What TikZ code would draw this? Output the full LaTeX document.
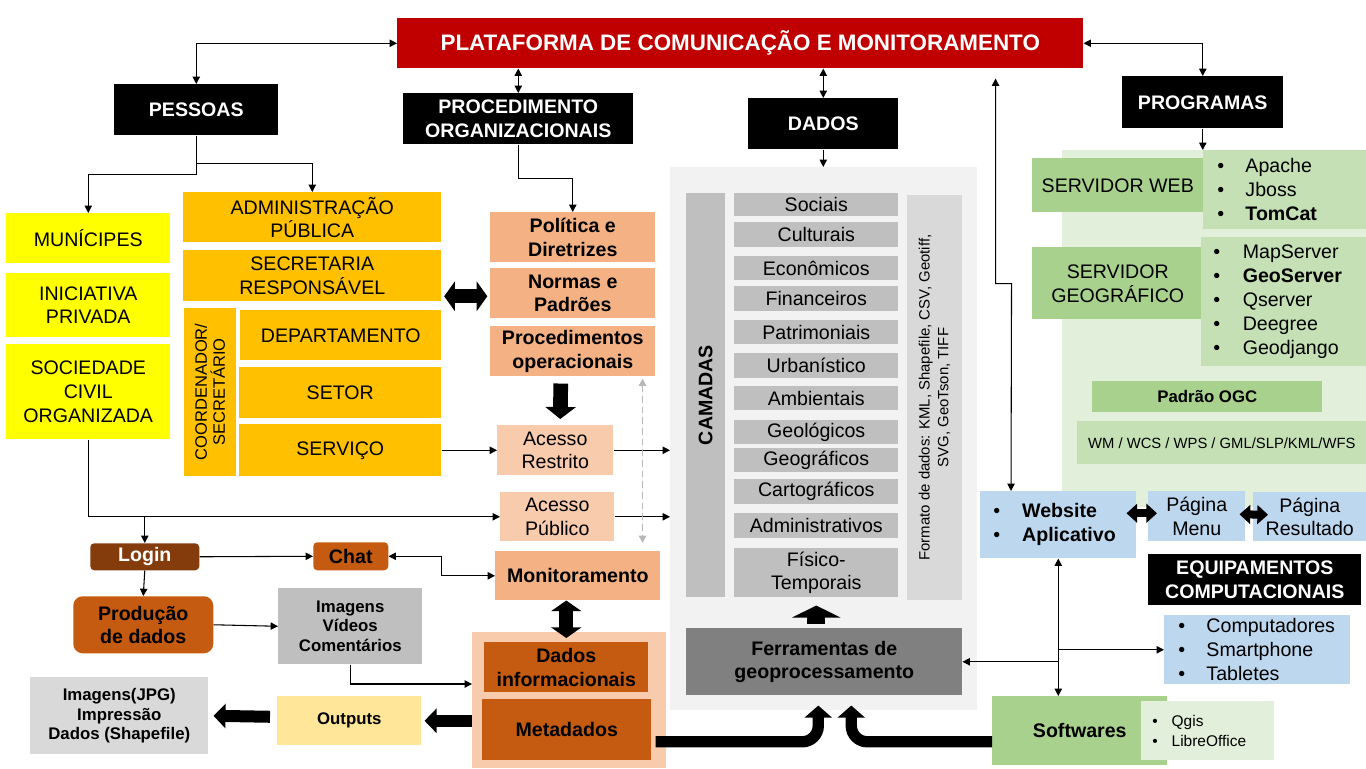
\documentclass[tikz,border=0pt]{standalone}
\usepackage{fontspec}
\setmainfont{Liberation Sans}
\usepackage{xcolor}
\definecolor{vermelho}{HTML}{C00000}
\definecolor{amarelo}{HTML}{FFFF00}
\definecolor{ouro}{HTML}{FFC000}
\definecolor{salmao}{HTML}{F4B183}
\definecolor{salmaoc}{HTML}{F8CBAD}
\definecolor{marrom}{HTML}{843C0C}
\definecolor{laranja}{HTML}{C55A11}
\definecolor{cinza}{HTML}{BFBFBF}
\definecolor{cinzac}{HTML}{D9D9D9}
\definecolor{cinzaf}{HTML}{F2F2F2}
\definecolor{cinzae}{HTML}{808080}
\definecolor{creme}{HTML}{FFE699}
\definecolor{verde}{HTML}{A9D18E}
\definecolor{verdec}{HTML}{C5E0B4}
\definecolor{verdef}{HTML}{E2EFDA}
\definecolor{azul}{HTML}{BDD7EE}
\usepackage{tikz}
\usetikzlibrary{arrows.meta,calc}
\newcommand{\itm}[1][16pt]{\textbullet\hspace{#1}}

\begin{document}
\begin{tikzpicture}[
    x=0.75pt, y=-0.75pt,
    box/.style={anchor=north west, inner sep=0pt, align=center, font=\fontsize{14.7}{17.6}\selectfont},
    bbox/.style={box, font=\fontsize{14.7}{17.6}\selectfont\bfseries},
    sbox/.style={box, font=\fontsize{12.6}{14.8}\selectfont\bfseries},
    sz/.style 2 args={minimum width=(#1)*0.75pt, minimum height=(#2)*0.75pt},
    titulo/.style={bbox, fill=black, text=white},
    lst/.style={box, align=left, font=\fontsize{14.7}{18}\selectfont},
    arr/.style={-{Triangle[length=5.5pt,width=5.5pt]}, line width=0.8pt},
    arr2/.style={{Triangle[length=5.5pt,width=5.5pt]}-{Triangle[length=5.5pt,width=5.5pt]}, line width=0.8pt},
    tracejada/.style={arr2, draw=black!28, fill=black!28, dashed, dash pattern=on 5pt off 3pt, line width=1.4pt},
    blk/.style 2 args={line width=#1, -{Triangle[length=9pt,width=#2]}},
    blk2/.style 2 args={line width=#1, {Triangle[length=8pt,width=#2]}-{Triangle[length=8pt,width=#2]}}
]
\useasboundingbox (0,0) rectangle (1366,768);

\node[bbox, fill=vermelho, text=white, sz={686}{50}, font=\fontsize{16.8}{19}\selectfont\bfseries] (plat) at (397,18) {PLATAFORMA DE COMUNICAÇÃO E MONITORAMENTO};
\node[titulo, sz={164}{51}] (pessoas) at (114,84) {PESSOAS};
\node[titulo, sz={230}{51}] (proc) at (403,93) {PROCEDIMENTO\\ORGANIZACIONAIS};
\node[titulo, sz={150}{51}] (dados) at (748,98) {DADOS};
\node[titulo, sz={161}{52}] (prog) at (1122,76) {PROGRAMAS};

\node[box, fill=amarelo, sz={164}{50}] (mun) at (6,213) {MUNÍCIPES};
\node[box, fill=amarelo, sz={164}{64}] (inic) at (6,273) {INICIATIVA\\PRIVADA};
\node[box, fill=amarelo, sz={164}{95}, font=\fontsize{14.7}{18}\selectfont] (soc) at (6,344) {SOCIEDADE\\CIVIL\\ORGANIZADA};

\node[box, fill=ouro, sz={258}{50}] (adm) at (183,192) {ADMINISTRAÇÃO\\PÚBLICA};
\node[box, fill=ouro, sz={258}{51}] (secr) at (183,250) {SECRETARIA\\RESPONSÁVEL};
\node[box, fill=ouro, rotate=90, anchor=center, sz={168}{52}, font=\fontsize{12.4}{13.5}\selectfont] (coord) at (210,392) {COORDENADOR/\\SECRETÁRIO};
\node[box, fill=ouro, sz={201}{50}] (dep) at (240,310) {DEPARTAMENTO};
\node[box, fill=ouro, sz={202}{51}] (setor) at (239,367) {SETOR};
\node[box, fill=ouro, sz={202}{52}] (serv) at (239,424) {SERVIÇO};

\node[bbox, fill=salmao, sz={165}{50}] (pol) at (490,212) {Política e\\Diretrizes};
\node[bbox, fill=salmao, sz={165}{50}] (normas) at (490,268) {Normas e\\Padrões};
\node[bbox, fill=salmao, sz={165}{50}] (procop) at (490,326) {Procedimentos\\operacionais};
\node[box, fill=salmaoc, sz={116}{50}] (restr) at (497,425) {Acesso\\Restrito};
\node[box, fill=salmaoc, sz={114}{49}] (publ) at (500,492) {Acesso\\Público};
\node[bbox, fill=salmao, sz={165}{49}] (monit) at (495,551) {Monitoramento};

\node[bbox, fill=marrom, text=white, rounded corners=3pt, sz={109}{27}] (login) at (90,543) {Login};
\node[bbox, fill=laranja, rounded corners=3pt, sz={75}{28}] (chat) at (313,542) {Chat};
\node[bbox, fill=laranja, rounded corners=7pt, sz={140}{57}] (prod) at (73,596) {Produção\\de dados};
\node[sbox, fill=cinza, sz={144}{76}] (midia) at (278,588) {Imagens\\Vídeos\\Comentários};
\node[sbox, fill=cinzac, sz={178}{77}] (saida) at (30,677) {Imagens(JPG)\\Impressão\\Dados (Shapefile)};
\node[sbox, fill=creme, sz={144}{49}] (outp) at (277,696) {Outputs};

\node[box, fill=salmaoc, sz={194}{136}] (cont) at (472,632) {};
\node[bbox, fill=laranja, sz={164}{50}] (info) at (484,642) {Dados\\informacionais};
\node[bbox, fill=laranja, sz={169}{61}] (meta) at (482,699) {Metadados};

\node[box, fill=cinzaf, sz={307}{543}] (ger) at (670,167) {};
\node[bbox, fill=cinza, rotate=90, anchor=center, sz={404}{39}] (cam) at (705.5,395) {CAMADAS};
\foreach \t/\a/\b [count=\i] in {Sociais/193/216, Culturais/222/247, Econômicos/256/280,
    Financeiros/286/311, Patrimoniais/320/344, Urbanístico/353/378, Ambientais/386/410,
    Geológicos/420/444, Geográficos/448/472, Cartográficos/479/504,
    Administrativos/513/538, Físico-\\Temporais/548/597}
  \node[box, fill=cinza, sz={164}{\b-\a}] (lay\i) at (734,\a) {\t};
\node[box, fill=cinzac, rotate=90, anchor=center, sz={405}{55}, font=\fontsize{11.2}{14}\selectfont] (fmt) at (934.5,397.5) {Formato de dados: KML, Shapefile, CSV, Geotiff,\\SVG, GeoTson, TIFF};
\node[bbox, fill=cinzae, sz={276}{67}] (ferr) at (686,628) {Ferramentas de\\geoprocessamento};

\node[box, fill=verdef, sz={304}{357}] (fundo) at (1062,150) {};
\node[box, fill=verde, sz={171}{54}] (web) at (1032,158) {SERVIDOR WEB};
\node[lst, fill=verdec, sz={163}{79}, inner xsep=10.5pt, text width=101.25pt] (weblst) at (1203,150) {\itm Apache\\\itm Jboss\\\itm\textbf{TomCat}};
\node[box, fill=verde, sz={171}{72}, font=\fontsize{14.7}{18}\selectfont] (geo) at (1032,247) {SERVIDOR\\GEOGRÁFICO};
\node[lst, fill=verdec, sz={165}{129}, inner xsep=9pt, text width=105.75pt] (geolst) at (1201,237) {\itm[17pt]MapServer\\\itm[17pt]\textbf{GeoServer}\\\itm[17pt]Qserver\\\itm[17pt]Deegree\\\itm[17pt]Geodjango};
\node[sbox, fill=verde, sz={230}{31}] (ogc) at (1092,381) {Padrão OGC};
\node[box, fill=verdec, sz={289}{43}, font=\fontsize{11.1}{13}\selectfont] (wm) at (1077,421) {WM / WCS / WPS / GML/SLP/KML/WFS};

\node[lst, fill=azul, sz={156}{67}, inner xsep=9.75pt, text width=97.5pt] (site) at (980,491) {\itm[16.5pt]\textbf{Website}\\\itm[16.5pt]\textbf{Aplicativo}};
\node[box, fill=azul, sz={97}{50}] (menu) at (1148,491) {Página\\Menu};
\node[box, fill=azul, sz={113}{49}] (res) at (1253,492) {Página\\Resultado};
\node[titulo, sz={213}{51}, font=\fontsize{14.7}{18}\selectfont\bfseries] (equip) at (1148,554) {EQUIPAMENTOS\\COMPUTACIONAIS};
\node[lst, fill=azul, sz={186}{69}, inner xsep=10.5pt, text width=118.5pt] (comp) at (1164,615) {\itm Computadores\\\itm Smartphone\\\itm Tabletes};
\node[bbox, fill=verde, sz={175}{69}] (soft) at (992,696) {Softwares};
\node[lst, fill=verdef, sz={133}{59}, inner xsep=8.25pt, text width=83.25pt, font=\fontsize{11.6}{15}\selectfont] (softlst) at (1141,701) {\itm[10.5pt]Qgis\\\itm[10.5pt]LibreOffice};

\draw[arr2] (pessoas.north) |- (plat.west);
\draw[arr2] (proc.north) -- (proc.north |- plat.south);
\draw[arr2] (dados.north) -- (dados.north |- plat.south);
\draw[arr2] (plat.east) -| (prog.north);
\draw[arr2] ($(plat.south east)+(-88,10)$) |- ++(16,205) -- ($(site.north west)+(31,0)$);
\draw[arr] (pessoas.south) -- ++(0,39) -| (mun.north);
\draw[arr] (pessoas.south) -- ++(0,28) -| (adm.north);
\draw[arr] (proc.south) -- ++(0,34) -| (pol.north);
\draw[arr] (dados.south) -- (dados.south |- ger.north);
\draw[arr] (prog.south) -- (prog.south |- weblst.north);
\draw[arr] (serv.east) -- (restr.west);
\draw[arr] (restr.east) -- (restr.east -| ger.west);
\draw[arr] (publ.east) -- (publ.east -| ger.west);
\draw[arr] (soc.south) |- (publ.west);
\draw[arr] (login.north |- publ.west) -- (login.north);
\draw[arr] (login.east) -- (chat.west);
\draw[arr] (login.south) -- (prod.north);
\draw[arr] (prod.east) -- (midia.west);
\draw[arr] (midia.south) |- ($(cont.north west)+(0,52)$);
\draw[arr2] (chat.east) -- ++(53,0) |- (monit.west);
\draw[tracejada] ($(procop.south east)+(-13,2)$) -- ($(monit.north east)+(-18,-8)$);
\draw[arr2] (site.south) -- (site.south |- soft.north);
\draw[arr] (site.south |- comp.west) -- (comp.west);
\draw[arr] (site.south |- ferr.east) -- (ferr.east);

\draw[blk2={10.5pt}{22pt}, shorten <=2pt, shorten >=2pt] ($(secr.east |- normas.west)+(0,3)$) -- ($(normas.west)+(0,3)$);
\draw[blk={11pt}{22.5pt}] ($(procop.south)+(-12,7)$) -- ($(restr.north)+(5,-6)$);
\draw[blk2={10.5pt}{22.5pt}, shorten >=3pt] (info.north |- monit.south) -- (info.north);
\draw[blk={9pt}{18pt}] (cont.west |- outp.east) -- ($(outp.east)+(3,0)$);
\draw[blk={9pt}{18pt}] ($(outp.west)+(-7,-4)$) -- ($(saida.east)+(5,0)$);
\draw[blk={13.5pt}{36pt}, shorten <=3pt, shorten >=6pt] (lay12.south |- ferr.north) -- (lay12.south);
\draw[blk2={6pt}{14pt}] ($(site.east |- menu.west)+(-10,-3)$) -- ($(menu.west)+(9,-3)$);
\draw[blk2={6pt}{14pt}] ($(menu.east)+(-6,-2)$) -- ($(res.west)+(15,-2)$);
\draw[blk={8.5pt}{20pt}, rounded corners=12pt] ($(meta.east)+(4,12)$) -| ($(ferr.south)+(-6,10)$);
\draw[blk={8.5pt}{20pt}, rounded corners=12pt] ($(soft.west)+(0,11)$) -| ($(ferr.south)+(27,10)$);
\end{tikzpicture}
\end{document}
